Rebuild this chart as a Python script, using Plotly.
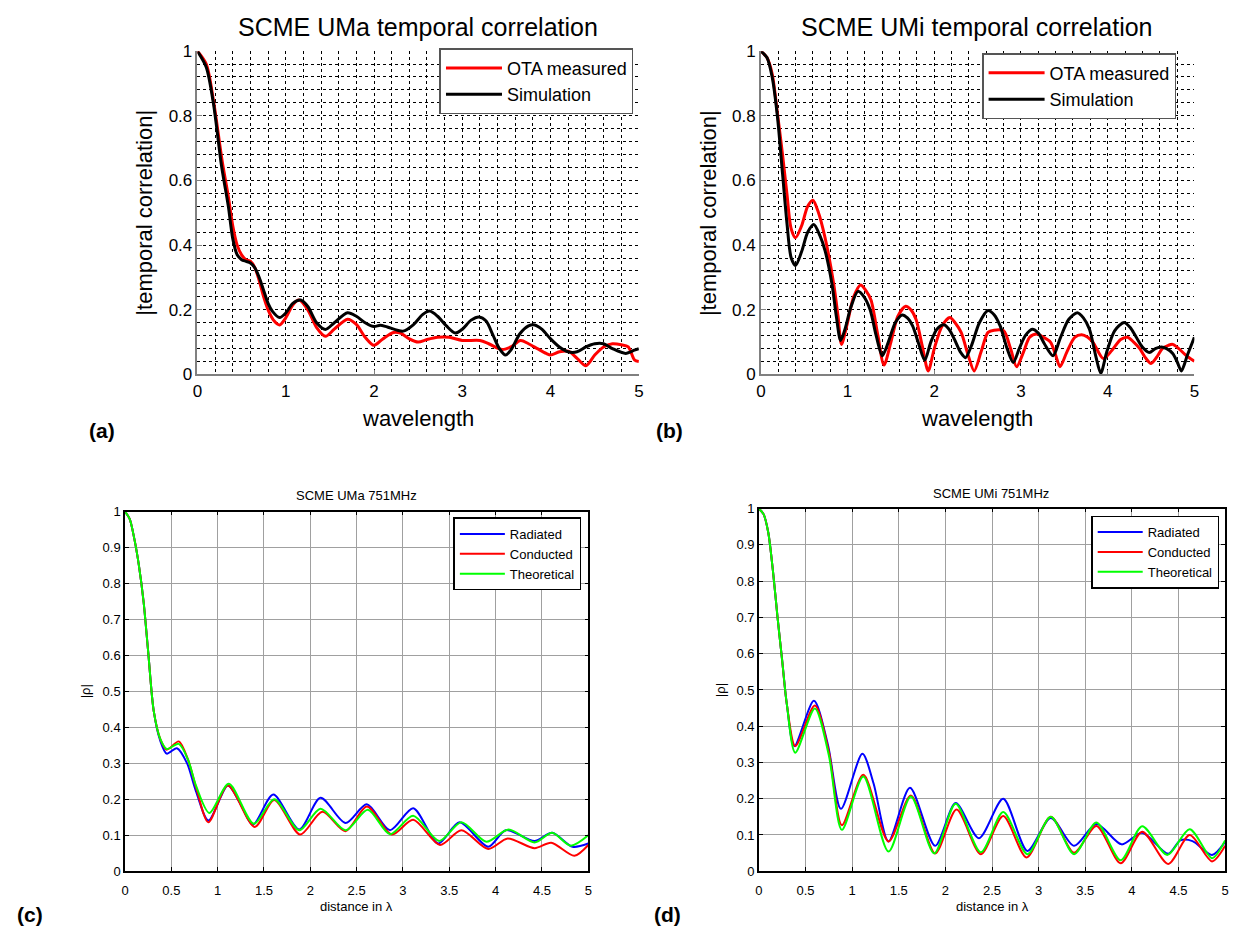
import plotly.graph_objects as go

W, H = 1245, 939
FONT = "Liberation Sans, Arial, sans-serif"

# ---------------- data ----------------
# (a) SCME UMa temporal correlation
a_ota_x = [0, 0.1, 0.18, 0.28, 0.35, 0.4, 0.45, 0.5, 0.55, 0.6, 0.65, 0.7, 0.75, 0.8, 0.87, 0.93,
           1.0, 1.08, 1.15, 1.25, 1.35, 1.45, 1.55, 1.7, 1.8, 1.9, 2.0, 2.1, 2.22, 2.3, 2.4, 2.5,
           2.6, 2.72, 2.85, 3.0, 3.2, 3.3, 3.45, 3.55, 3.66, 3.75, 3.85, 3.95, 4.0, 4.1, 4.2,
           4.3, 4.4, 4.5, 4.6, 4.7, 4.8, 4.88, 4.95, 5.0]
a_ota_y = [1.0, 0.96, 0.85, 0.66, 0.55, 0.46, 0.40, 0.37, 0.355, 0.35, 0.33, 0.29, 0.24, 0.2, 0.165, 0.153,
           0.175, 0.215, 0.23, 0.2, 0.145, 0.118, 0.14, 0.171, 0.155, 0.115, 0.09, 0.11, 0.13, 0.128, 0.11, 0.1,
           0.108, 0.115, 0.115, 0.105, 0.105, 0.095, 0.077, 0.085, 0.105, 0.095, 0.08, 0.065, 0.06, 0.07, 0.072,
           0.05, 0.027, 0.06, 0.085, 0.095, 0.092, 0.085, 0.045, 0.04]
a_sim_x = [0, 0.1, 0.18, 0.27, 0.3, 0.35, 0.4, 0.45, 0.5, 0.55, 0.6, 0.65, 0.7, 0.75, 0.8, 0.85, 0.93,
           1.0, 1.08, 1.17, 1.25, 1.35, 1.45, 1.55, 1.7, 1.8, 1.9, 2.0, 2.07, 2.15, 2.33, 2.45, 2.55,
           2.63, 2.72, 2.82, 2.92, 3.0, 3.1, 3.19, 3.27, 3.35, 3.42, 3.49, 3.55, 3.65, 3.75, 3.82,
           3.9, 4.0, 4.1, 4.2, 4.3, 4.4, 4.5, 4.6, 4.7, 4.85, 4.95, 5.0]
a_sim_y = [1.0, 0.95, 0.84, 0.65, 0.6, 0.52, 0.42, 0.37, 0.355, 0.35, 0.345, 0.33, 0.30, 0.26, 0.22, 0.195, 0.176,
           0.19, 0.22, 0.23, 0.21, 0.16, 0.139, 0.16, 0.191, 0.18, 0.16, 0.148, 0.152, 0.147, 0.134, 0.155, 0.185,
           0.196, 0.18, 0.15, 0.128, 0.14, 0.168, 0.178, 0.165, 0.12, 0.08, 0.06, 0.075, 0.125, 0.15, 0.153,
           0.14, 0.11, 0.085, 0.07, 0.07, 0.085, 0.095, 0.095, 0.08, 0.065, 0.075, 0.08]

# (b) SCME UMi temporal correlation
b_ota_x = [0, 0.07, 0.13, 0.19, 0.25, 0.3, 0.35, 0.4, 0.47, 0.54, 0.6, 0.66, 0.74, 0.84, 0.89, 0.93,
           0.99, 1.07, 1.15, 1.21, 1.27, 1.35, 1.42, 1.5, 1.58, 1.67, 1.73, 1.79, 1.86, 1.93, 2.0,
           2.09, 2.18, 2.24, 2.31, 2.39, 2.46, 2.54, 2.62, 2.69, 2.8, 2.88, 2.95, 3.03, 3.1, 3.18,
           3.26, 3.34, 3.4, 3.45, 3.53, 3.62, 3.7, 3.77, 3.83, 3.95, 4.05, 4.15, 4.23, 4.3, 4.37,
           4.44, 4.5, 4.57, 4.63, 4.7, 4.75, 4.82, 4.9, 5.0]
b_ota_y = [1.0, 0.98, 0.93, 0.81, 0.68, 0.56, 0.45, 0.423, 0.46, 0.52, 0.539, 0.504, 0.423, 0.28, 0.18, 0.093,
           0.15, 0.24, 0.277, 0.26, 0.23, 0.12, 0.029, 0.10, 0.18, 0.211, 0.2, 0.17, 0.09, 0.011, 0.08,
           0.15, 0.176, 0.16, 0.13, 0.06, 0.011, 0.07, 0.13, 0.137, 0.135, 0.08, 0.024, 0.07, 0.115, 0.125,
           0.115, 0.10, 0.06, 0.024, 0.07, 0.115, 0.123, 0.115, 0.10, 0.049, 0.075, 0.108, 0.115, 0.1, 0.08,
           0.05, 0.034, 0.055, 0.08, 0.09, 0.093, 0.08, 0.06, 0.041]
b_sim_x = [0, 0.07, 0.13, 0.19, 0.25, 0.3, 0.35, 0.4, 0.47, 0.54, 0.61, 0.68, 0.74, 0.82, 0.87, 0.92,
           0.97, 1.04, 1.12, 1.19, 1.26, 1.33, 1.40, 1.47, 1.55, 1.63, 1.69, 1.75, 1.82, 1.89, 1.96,
           2.03, 2.11, 2.17, 2.23, 2.3, 2.36, 2.43, 2.52, 2.62, 2.69, 2.76, 2.84, 2.91, 2.98, 3.05,
           3.13, 3.2, 3.27, 3.37, 3.45, 3.55, 3.65, 3.72, 3.79, 3.86, 3.92, 3.99, 4.08, 4.19, 4.26,
           4.33, 4.4, 4.48, 4.55, 4.62, 4.68, 4.75, 4.8, 4.85, 4.92, 5.0]
b_sim_y = [1.0, 0.98, 0.92, 0.80, 0.62, 0.47, 0.36, 0.337, 0.38, 0.44, 0.464, 0.43, 0.383, 0.28, 0.18, 0.105,
           0.14, 0.21, 0.257, 0.24, 0.2, 0.12, 0.058, 0.10, 0.16, 0.184, 0.175, 0.15, 0.095, 0.044, 0.1,
           0.14, 0.154, 0.14, 0.11, 0.07, 0.052, 0.09, 0.16, 0.198, 0.185, 0.15, 0.08, 0.037, 0.08, 0.12,
           0.140, 0.128, 0.095, 0.058, 0.11, 0.17, 0.191, 0.175, 0.14, 0.06, 0.004, 0.07, 0.135, 0.161, 0.145,
           0.115, 0.085, 0.068, 0.08, 0.085, 0.08, 0.065, 0.04, 0.011, 0.06, 0.115]

# (c) SCME UMa 751MHz
c_rad_x = [0, 0.05, 0.1, 0.15, 0.2, 0.25, 0.31, 0.38, 0.45, 0.56, 0.67, 0.76, 0.9, 1.11, 1.24, 1.38,
           1.60, 1.88, 2.11, 2.38, 2.61, 2.86, 3.11, 3.38, 3.61, 3.92, 4.11, 4.42, 4.61, 4.83, 5.0]
c_rad_y = [1.0, 0.98, 0.925, 0.85, 0.75, 0.61, 0.445, 0.363, 0.327, 0.342, 0.30, 0.227, 0.141, 0.238, 0.19, 0.129,
           0.213, 0.116, 0.204, 0.134, 0.186, 0.114, 0.175, 0.077, 0.136, 0.068, 0.114, 0.084, 0.107, 0.068, 0.077]
c_con_x = [0, 0.05, 0.1, 0.15, 0.2, 0.25, 0.31, 0.38, 0.45, 0.58, 0.68, 0.77, 0.9, 1.11, 1.40, 1.61,
           1.89, 2.13, 2.38, 2.61, 2.88, 3.11, 3.40, 3.63, 3.92, 4.13, 4.42, 4.6, 4.85, 5.0]
c_con_y = [1.0, 0.98, 0.925, 0.85, 0.75, 0.61, 0.445, 0.368, 0.338, 0.361, 0.31, 0.23, 0.136, 0.238, 0.123, 0.198,
           0.102, 0.165, 0.111, 0.18, 0.102, 0.143, 0.073, 0.114, 0.062, 0.091, 0.064, 0.079, 0.043, 0.073]
c_the_x = [0, 0.05, 0.1, 0.15, 0.2, 0.25, 0.31, 0.38, 0.45, 0.58, 0.68, 0.77, 0.91, 1.12, 1.39, 1.61,
           1.88, 2.11, 2.38, 2.62, 2.86, 3.11, 3.39, 3.63, 3.90, 4.14, 4.42, 4.61, 4.81, 5.0]
c_the_y = [1.0, 0.98, 0.925, 0.85, 0.75, 0.61, 0.445, 0.368, 0.34, 0.354, 0.31, 0.235, 0.162, 0.243, 0.132, 0.20,
           0.114, 0.174, 0.114, 0.171, 0.103, 0.154, 0.084, 0.136, 0.082, 0.116, 0.080, 0.107, 0.071, 0.10]

# (d) SCME UMi 751MHz
d_rad_x = [0, 0.05, 0.1, 0.15, 0.2, 0.25, 0.3, 0.38, 0.59, 0.74, 0.88, 1.11, 1.23, 1.39, 1.62, 1.89,
           2.11, 2.36, 2.62, 2.88, 3.13, 3.38, 3.62, 3.89, 4.11, 4.39, 4.52, 4.65, 4.86, 5.0]
d_rad_y = [1.0, 0.985, 0.935, 0.83, 0.70, 0.58, 0.46, 0.345, 0.47, 0.349, 0.172, 0.324, 0.242, 0.082, 0.23, 0.07,
           0.188, 0.091, 0.20, 0.056, 0.147, 0.07, 0.13, 0.074, 0.106, 0.048, 0.085, 0.083, 0.045, 0.081]
d_con_x = [0, 0.05, 0.1, 0.15, 0.2, 0.25, 0.3, 0.39, 0.60, 0.75, 0.89, 1.12, 1.39, 1.63, 1.89, 2.12,
           2.38, 2.62, 2.87, 3.13, 3.38, 3.62, 3.88, 4.11, 4.39, 4.62, 4.86, 5.0]
d_con_y = [1.0, 0.985, 0.935, 0.83, 0.70, 0.58, 0.46, 0.345, 0.457, 0.33, 0.127, 0.266, 0.082, 0.209, 0.049, 0.17,
           0.047, 0.152, 0.038, 0.15, 0.051, 0.125, 0.022, 0.109, 0.02, 0.10, 0.027, 0.07]
d_the_x = [0, 0.05, 0.1, 0.15, 0.2, 0.25, 0.3, 0.39, 0.60, 0.75, 0.89, 1.12, 1.39, 1.63, 1.88, 2.11,
           2.38, 2.62, 2.88, 3.13, 3.38, 3.62, 3.88, 4.11, 4.38, 4.62, 4.86, 5.0]
d_the_y = [1.0, 0.985, 0.935, 0.83, 0.70, 0.58, 0.46, 0.327, 0.449, 0.32, 0.114, 0.261, 0.054, 0.206, 0.049, 0.186,
           0.052, 0.163, 0.047, 0.15, 0.047, 0.134, 0.03, 0.124, 0.045, 0.116, 0.036, 0.085]

top_titles = ["SCME UMa temporal correlation", "SCME UMi temporal correlation"]
bot_titles = ["SCME UMa 751MHz", "SCME UMi 751MHz"]
top_names = ["OTA measured", "Simulation"]
bot_names = ["Radiated", "Conducted", "Theoretical"]
panel_labels = ["(a)", "(b)", "(c)", "(d)"]

# ---------------- layout helpers ----------------
def px(x):
    return x / W

def py(y):
    return 1 - y / H

# plot-area pixel boxes (left, right, top, bottom)
boxes = {
    "a": (194, 639, 43, 373),
    "b": (762, 1199, 43, 373),
    "c": (121, 588, 513, 880),
    "d": (760, 1230, 510, 880),
}

fig = go.Figure()

def add(xs, ys, name, color, width, ax, legend):
    fig.add_trace(go.Scatter(
        x=xs, y=ys, name=name, mode="lines",
        line=dict(color=color, width=width, shape="spline", smoothing=0.8),
        xaxis="x" + ax, yaxis="y" + ax, legend=legend,
    ))

add(a_ota_x, a_ota_y, top_names[0], "#ff0000", 3, "", "legend")
add(a_sim_x, a_sim_y, top_names[1], "#000000", 3, "", "legend")
add(b_ota_x, b_ota_y, top_names[0], "#ff0000", 3, "2", "legend2")
add(b_sim_x, b_sim_y, top_names[1], "#000000", 3, "2", "legend2")
add(c_rad_x, c_rad_y, bot_names[0], "#0000ff", 2, "3", "legend3")
add(c_con_x, c_con_y, bot_names[1], "#ff0000", 2, "3", "legend3")
add(c_the_x, c_the_y, bot_names[2], "#00ff00", 2, "3", "legend3")
add(d_rad_x, d_rad_y, bot_names[0], "#0000ff", 2, "4", "legend4")
add(d_con_x, d_con_y, bot_names[1], "#ff0000", 2, "4", "legend4")
add(d_the_x, d_the_y, bot_names[2], "#00ff00", 2, "4", "legend4")

def top_axes(box, anchor):
    l, r, t, b = box
    xa = dict(domain=[px(l), px(r)], range=[0, 5], dtick=1, tick0=0, anchor="y" + anchor,
              showgrid=True, gridcolor="#000000", griddash="dot", gridwidth=1,
              minor=dict(dtick=0.2, showgrid=True, gridcolor="#000000", griddash="dot", gridwidth=1),
              zeroline=False, showline=True, linecolor="#808080", linewidth=1.5,
              ticks="inside", ticklen=5, tickcolor="#808080",
              tickfont=dict(family=FONT, size=17, color="#000"))
    ya = dict(domain=[py(b), py(t)], range=[0, 1], dtick=0.2, tick0=0, anchor="x" + anchor,
              showgrid=True, gridcolor="#000000", griddash="dot", gridwidth=1,
              minor=dict(dtick=0.04, showgrid=True, gridcolor="#000000", griddash="dot", gridwidth=1),
              zeroline=False, showline=True, linecolor="#808080", linewidth=1.5,
              ticks="inside", ticklen=5, tickcolor="#808080",
              tickfont=dict(family=FONT, size=17, color="#000"))
    return xa, ya

def bot_axes(box, anchor):
    l, r, t, b = box
    xa = dict(domain=[px(l), px(r)], range=[0, 5], dtick=0.5, tick0=0, anchor="y" + anchor,
              showgrid=True, gridcolor="#a0a0a0", gridwidth=1,
              zeroline=False, showline=True, linecolor="#000000", linewidth=1.5, mirror="ticks",
              ticks="inside", ticklen=4, tickcolor="#000000", ticklabelstandoff=6,
              tickfont=dict(family=FONT, size=13, color="#000"))
    ya = dict(domain=[py(b), py(t)], range=[0, 1], dtick=0.1, tick0=0, anchor="x" + anchor,
              showgrid=True, gridcolor="#a0a0a0", gridwidth=1,
              zeroline=False, showline=True, linecolor="#000000", linewidth=1.5, mirror="ticks",
              ticks="inside", ticklen=4, tickcolor="#000000",
              tickfont=dict(family=FONT, size=13, color="#000"))
    return xa, ya

xa, ya = top_axes(boxes["a"], "")
xb, yb = top_axes(boxes["b"], "2")
xc, yc = bot_axes(boxes["c"], "3")
xd, yd = bot_axes(boxes["d"], "4")

def legend_at(x, y, size, border, iw):
    return dict(x=px(x), y=py(y), xanchor="left", yanchor="top",
                bgcolor="#ffffff", bordercolor=border, borderwidth=1.5,
                font=dict(family=FONT, size=size, color="#000"),
                tracegroupgap=0, itemwidth=iw)

ann = []
def text(x, y, s, size, angle=0, bold=False):
    ann.append(dict(x=px(x), y=py(y), xref="paper", yref="paper", text=("<b>%s</b>" % s) if bold else s,
                    showarrow=False, xanchor="center", yanchor="middle", textangle=angle,
                    font=dict(family=FONT, size=size, color="#000")))

text(416, 18, top_titles[0], 25)
text(980, 18, top_titles[1], 25)
text(416, 418, "wavelength", 22)
text(980, 418, "wavelength", 22)
text(141, 208, "|temporal correlation|", 22, angle=-90)
text(709, 208, "|temporal correlation|", 22, angle=-90)
text(354, 497, bot_titles[0], 13)
text(994, 495, bot_titles[1], 13)
text(354, 916, "distance in λ", 13)
text(995, 916, "distance in λ", 13)
text(82, 696, "|ρ|", 13, angle=-90)
text(722, 695, "|ρ|", 13, angle=-90)
text(98, 430, panel_labels[0], 21, bold=True)
text(670, 430, panel_labels[1], 21, bold=True)
text(25, 924, panel_labels[2], 21, bold=True)
text(668, 924, panel_labels[3], 21, bold=True)

fig.update_layout(
    width=W, height=H, autosize=False,
    margin=dict(l=0, r=0, t=0, b=0),
    paper_bgcolor="#ffffff", plot_bgcolor="#ffffff",
    xaxis=xa, yaxis=ya, xaxis2=xb, yaxis2=yb, xaxis3=xc, yaxis3=yc, xaxis4=xd, yaxis4=yd,
    legend=legend_at(438, 40, 18, "#555555", 56),
    legend2=legend_at(985, 45, 18, "#555555", 56),
    legend3=legend_at(452, 519, 13, "#000000", 45),
    legend4=legend_at(1095, 517, 13, "#000000", 45),
    annotations=ann,
    showlegend=True,
)

fig.write_html("out.html")
